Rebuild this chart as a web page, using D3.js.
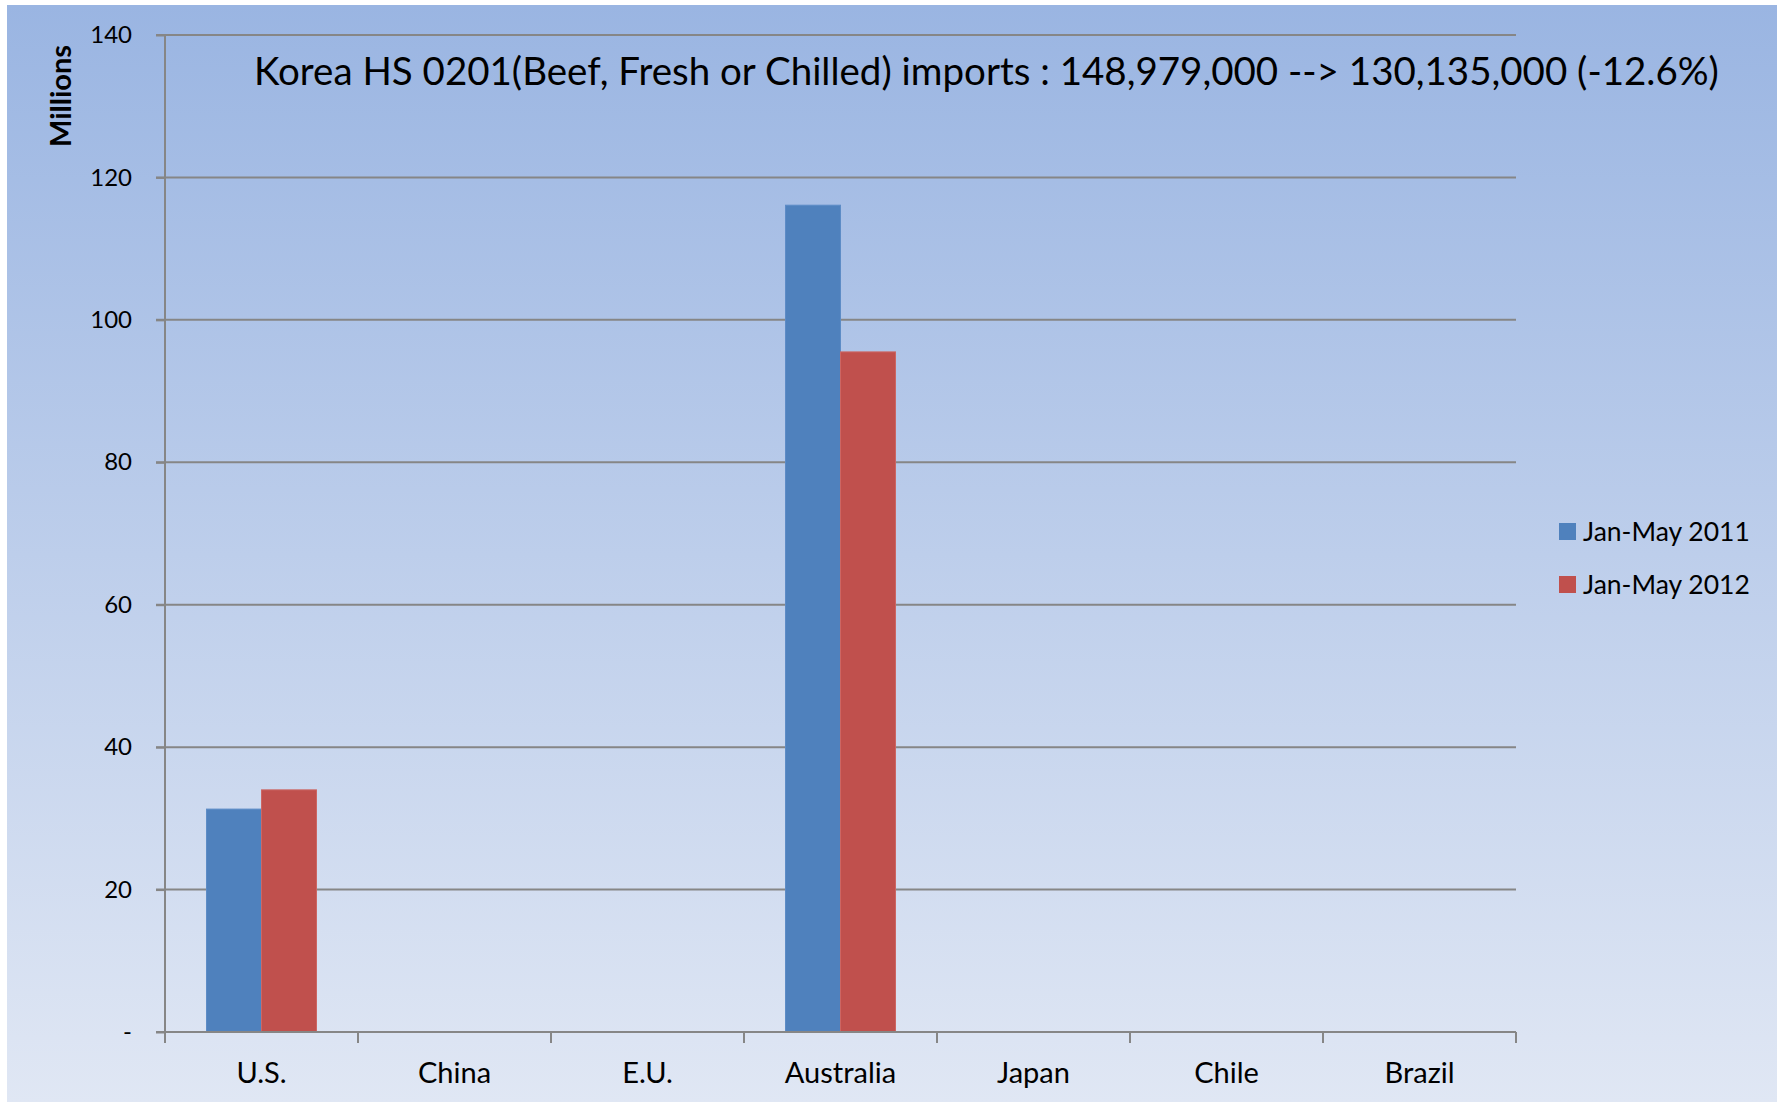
<!DOCTYPE html>
<html>
<head>
<meta charset="utf-8">
<script src="https://cdn.jsdelivr.net/npm/d3@7"></script>
<style>
  body { margin: 0; background: #fff; }
  svg text { font-family: Lato, "Open Sans", sans-serif; fill: #000; }
</style>
</head>
<body>
<script>
const categories = ["U.S.", "China", "E.U.", "Australia", "Japan", "Chile", "Brazil"]
const seriesNames = ["Jan-May 2011", "Jan-May 2012"]
const values2011 = [31.3, 0, 0, 116.1, 0, 0, 0]
const values2012 = [34.0, 0, 0, 95.5, 0, 0, 0]
const yTicks = [0, 20, 40, 60, 80, 100, 120, 140]
const title = "Korea HS 0201(Beef, Fresh or Chilled) imports : 148,979,000 --> 130,135,000 (-12.6%)"

const width = 1783, height = 1103
const margin = { top: 35, bottom: 71, left: 165, right: 267 }
const colors = ["#4f81bd", "#c0504d"]

const rows = categories.map((c, i) => ({ cat: c, vals: [values2011[i], values2012[i]] }))

let svg = d3.select("body")
    .append("svg")
    .attr("width", width)
    .attr("height", height)

let defs = svg.append("defs")
let grad = defs.append("linearGradient")
    .attr("id", "bg")
    .attr("x1", 0).attr("y1", 0).attr("x2", 0).attr("y2", 1)
grad.append("stop").attr("offset", "0%").attr("stop-color", "#9ab5e2")
grad.append("stop").attr("offset", "100%").attr("stop-color", "#e0e7f4")

svg.append("rect")
    .attr("x", 7).attr("y", 5)
    .attr("width", 1770).attr("height", 1097)
    .attr("fill", "url(#bg)")

let x = d3.scaleBand()
    .domain(categories)
    .range([margin.left, width - margin.right])

let x1 = d3.scaleBand()
    .domain(seriesNames)
    .range([0, x.bandwidth()])
    .paddingOuter(0.755)

let y = d3.scaleLinear()
    .domain([0, 140])
    .range([height - margin.bottom, margin.top])

// gridlines
svg.append("g")
    .selectAll("line")
    .data(yTicks.filter(d => d > 0))
    .enter()
    .append("line")
    .attr("x1", margin.left - 9)
    .attr("x2", width - margin.right)
    .attr("y1", d => y(d))
    .attr("y2", d => y(d))
    .attr("stroke", "#868686")
    .attr("stroke-width", 2)

// bars
svg.append("g")
    .selectAll("g")
    .data(rows)
    .enter()
    .append("g")
    .attr("transform", d => `translate(${x(d.cat)},0)`)
    .selectAll("rect")
    .data(d => d.vals.map((v, j) => ({ name: seriesNames[j], v: v, j: j })))
    .enter()
    .append("rect")
    .attr("x", d => x1(d.name))
    .attr("width", x1.bandwidth())
    .attr("y", d => y(d.v))
    .attr("height", d => y(0) - y(d.v))
    .attr("fill", d => colors[d.j])
    .attr("stroke", d => d.j == 0 ? "#5d8cc6" : "#cd6663")
    .attr("stroke-width", 1)

// y axis
let yAxis = svg.append("g")
    .attr("transform", `translate(${margin.left}, 0)`)
    .call(d3.axisLeft(y).tickValues(yTicks).tickSize(9).tickPadding(24)
        .tickFormat(d => d == 0 ? "-" : d))
yAxis.selectAll("line, path").attr("stroke", "#868686").attr("stroke-width", 2)
yAxis.select(".domain").attr("d", `M0,${y(140)}V${y(0)}`)
yAxis.selectAll("text")
    .style("font-size", "24px")
    .style("font-family", "Lato, sans-serif")
    .attr("fill", "#000")

// x axis
let xAxis = svg.append("g")
    .attr("transform", `translate(0, ${y(0)})`)
    .call(d3.axisBottom(x).tickSize(0).tickPadding(30))
xAxis.select(".domain").attr("d", `M${margin.left - 9},0H${width - margin.right}`)
    .attr("stroke", "#868686").attr("stroke-width", 2)
xAxis.selectAll("text")
    .style("font-size", "29px")
    .style("font-family", "Lato, sans-serif")
    .attr("fill", "#000")
    .attr("dy", "0.71em")

// category boundary ticks
xAxis.append("g")
    .selectAll("line")
    .data(categories.concat(["end"]))
    .enter()
    .append("line")
    .attr("x1", (d, i) => i < categories.length ? x(d) : width - margin.right)
    .attr("x2", (d, i) => i < categories.length ? x(d) : width - margin.right)
    .attr("y1", 0)
    .attr("y2", 11)
    .attr("stroke", "#868686")
    .attr("stroke-width", 2)

// y title
svg.append("text")
    .attr("transform", `translate(71, 96) rotate(-90)`)
    .attr("text-anchor", "middle")
    .style("font-size", "29px")
    .style("font-weight", "bold")
    .text("Millions")

// chart title
svg.append("text")
    .attr("x", 254)
    .attr("y", 85)
    .style("font-size", "38.5px")
    .text(title)

// legend
let legend = svg.append("g")
    .attr("transform", "translate(1559, 523)")

let items = legend.selectAll("g")
    .data(seriesNames)
    .enter()
    .append("g")
    .attr("transform", (d, i) => `translate(0, ${i * 53})`)

items.append("rect")
    .attr("width", 17)
    .attr("height", 17)
    .attr("fill", (d, i) => colors[i])

items.append("text")
    .attr("x", 24)
    .attr("y", 18)
    .style("font-size", "26.5px")
    .text(d => d)
</script>
</body>
</html>
